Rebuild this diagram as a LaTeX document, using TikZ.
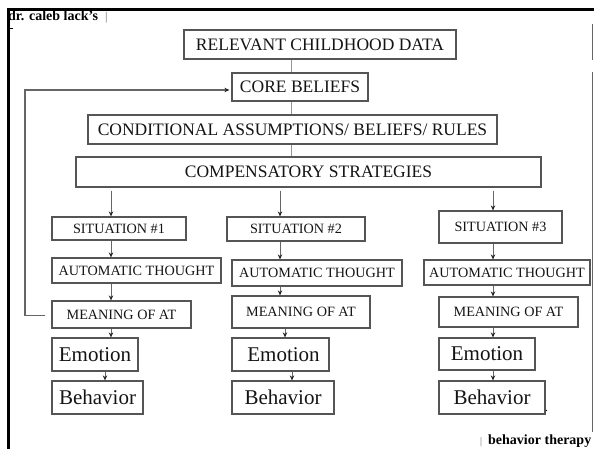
\documentclass[tikz,border=0pt]{standalone}
\usepackage{fontspec}
\setmainfont{Liberation Serif}
\usetikzlibrary{arrows.meta}
\definecolor{boxgray}{HTML}{555555}
\definecolor{txtgray}{HTML}{141414}
\definecolor{linegray}{HTML}{666666}
\tikzset{
  box/.style={draw=boxgray, line width=1.2pt, inner sep=0pt, text=txtgray, anchor=center},
  big/.style={font=\fontsize{17.5}{20}\selectfont},
  mid/.style={font=\fontsize{14.2}{16}\selectfont},
  huge/.style={font=\fontsize{21}{24}\selectfont},
  tip/.style={-{Stealth[length=5pt,width=4.5pt,color=black!85]}},
  arr/.style={draw=linegray, line width=0.9pt, tip},
  plain/.style={draw=linegray!70, line width=0.9pt},
  loopline/.style={draw=linegray, line width=1.2pt}
}
\newcommand{\bx}[7]{\node[box,#6,minimum width={(#4-#2)*1pt},minimum height={(#5-#3)*1pt}] (#1) at ({(#2+#4)/2},{(#3+#5)/2}) {#7};}
\begin{document}
\begin{tikzpicture}[x=1pt,y=-1pt]
\useasboundingbox (0,0) rectangle (594,449);
% page borders
\draw[line width=3pt,black] (8,449) -- (8,10) -- (594,10);
\draw[line width=0.9pt,linegray] (592,24) -- (592,60);
\draw[line width=0.9pt,linegray] (592,72) -- (592,432);
\draw[line width=0.8pt,black] (8,28) -- (13,28);
% header / footer
\node[anchor=base west,inner sep=0pt,font=\bfseries\fontsize{14}{16}\selectfont] (hdr) at (8,21) {dr. caleb lack’s};
\node[anchor=base west,inner sep=0pt,text=linegray,font=\fontsize{12}{14}\selectfont] (hbar) at (105,21) {|};
\node[anchor=base west,inner sep=0pt,text=linegray,font=\fontsize{10}{12}\selectfont] (fbar) at (480,444) {|};
\node[anchor=base west,inner sep=0pt,font=\bfseries\fontsize{14}{16}\selectfont] (ftr) at (488,444) {behavior therapy};
% top stack
\bx{rel}{184}{30}{456}{59}{big}{RELEVANT CHILDHOOD DATA}
\bx{core}{232}{73}{368}{101}{big}{CORE BELIEFS}
\bx{cond}{88}{115}{497}{144}{big}{CONDITIONAL ASSUMPTIONS/ BELIEFS/ RULES}
\bx{comp}{76}{157}{541}{187}{big}{COMPENSATORY STRATEGIES}
\coordinate (cx) at (291,0);
\draw[plain] (rel.south -| cx) -- (core.north -| cx);
\draw[plain] (core.south -| cx) -- (cond.north -| cx);
\draw[plain] (cond.south -| cx) -- (comp.north -| cx);
% column 1
\bx{s1}{52}{217}{186}{240}{mid}{SITUATION \#1}
\bx{a1}{52}{258}{221}{283}{mid}{AUTOMATIC THOUGHT}
\bx{m1}{52}{301}{191}{328}{mid}{MEANING OF AT}
\bx{e1}{52}{338}{138}{371}{huge}{Emotion}
\bx{b1}{52}{381}{143}{414}{huge}{Behavior}
% column 2
\bx{s2}{227}{217}{365}{241}{mid}{SITUATION \#2}
\bx{a2}{232}{260}{402}{286}{mid}{AUTOMATIC THOUGHT}
\bx{m2}{232}{296}{370}{328}{mid}{MEANING OF AT}
\bx{e2}{232}{338}{329}{371}{huge}{\hspace*{6pt}Emotion}
\bx{b2}{232}{381}{334}{414}{huge}{Behavior}
% column 3
\bx{s3}{439}{211}{562}{243}{mid}{SITUATION \#3}
\bx{a3}{424}{260}{590}{285}{mid}{AUTOMATIC THOUGHT}
\bx{m3}{439}{297}{578}{327}{mid}{MEANING OF AT}
\bx{e3}{439}{338}{535}{370}{huge}{Emotion}
\bx{b3}{439}{381}{545}{414}{huge}{Behavior}
\node[inner sep=0pt,text=txtgray,font=\fontsize{12}{14}\selectfont,anchor=base west] (dot) at (545,411) {.};
% column arrows
\coordinate (c1) at (111,0);
\coordinate (c1b) at (105,0);
\coordinate (c2) at (280,0);
\coordinate (c2m) at (285,0);
\coordinate (c2b) at (292,0);
\coordinate (c3) at (493,0);
\draw[arr,shorten <=3pt] (comp.south -| c1) -- (s1.north -| c1);
\draw[arr,shorten <=3pt] (comp.south -| c2) -- (s2.north -| c2);
\draw[arr,shorten <=3pt] (comp.south -| c3) -- (s3.north -| c3);
\draw[arr] (s1.south -| c1) -- (a1.north -| c1);
\draw[arr] (a1.south -| c1) -- (m1.north -| c1);
\draw[arr] (m1.south -| c1) -- (e1.north -| c1);
\draw[arr] (e1.south -| c1b) -- (b1.north -| c1b);
\draw[arr] (s2.south -| c2) -- (a2.north -| c2);
\draw[arr] (a2.south -| c2) -- (m2.north -| c2);
\draw[arr] (m2.south -| c2m) -- (e2.north -| c2m);
\draw[arr] (e2.south -| c2b) -- (b2.north -| c2b);
\draw[arr] (s3.south -| c3) -- (a3.north -| c3);
\draw[arr] (a3.south -| c3) -- (m3.north -| c3);
\draw[arr] (m3.south -| c3) -- (e3.north -| c3);
\draw[arr] (e3.south -| c3) -- (b3.north -| c3);
% feedback loop
\coordinate (lx) at (25,0);
\draw[loopline,shorten <=6pt,shorten >=2pt,tip] ([yshift=-1pt]m1.west) -- ([yshift=-1pt]m1.west -| lx) |- ([yshift=-3pt]core.west);
\end{tikzpicture}
\end{document}
